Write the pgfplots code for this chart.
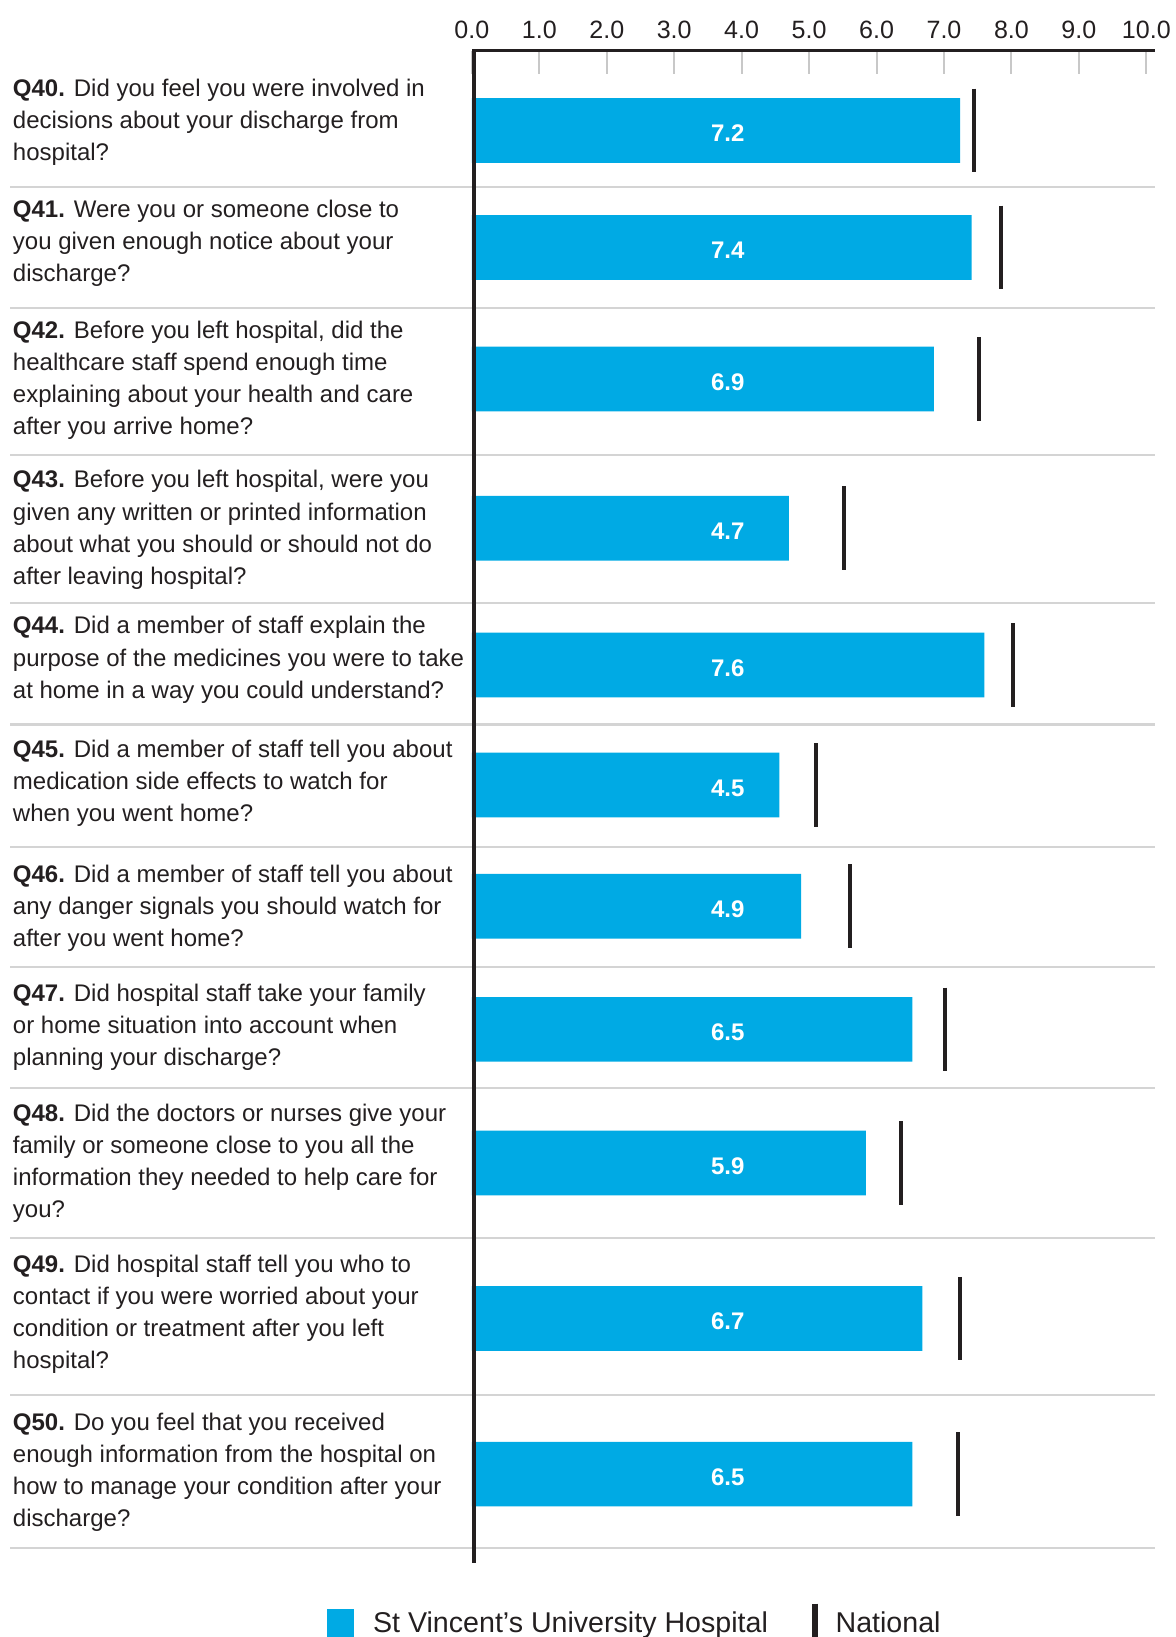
\documentclass[border=0pt]{standalone}
\usepackage{pgfplots}
\pgfplotsset{compat=1.18}
\usepackage{pgfplotstable}
\usepackage{fontspec}
\setmainfont{Liberation Sans}
\definecolor{barblue}{HTML}{00AAE4}
\definecolor{ink}{HTML}{231F20}
\definecolor{sepgray}{HTML}{D4D4D4}
\definecolor{tickgray}{HTML}{C8C8C8}
\newcommand{\labfont}{\fontsize{11.5}{15.35}\selectfont}

\pgfplotstableread{
y     val   nat   lx     lab
-125  7.24  7.45  3.793  7.2
-237  7.41  7.84  3.793  7.4
-363  6.85  7.52  3.793  6.9
-506  4.70  5.52  3.793  4.7
-637  7.60  8.02  3.793  7.6
-752  4.56  5.10  3.793  4.5
-868  4.88  5.61  3.793  4.9
-986  6.53  7.02  3.793  6.5
-1114 5.84  6.36  3.793  5.9
-1263 6.68  7.24  3.793  6.7
-1412 6.53  7.21  3.793  6.5
}\data

\begin{document}
\begin{tikzpicture}
\begin{axis}[
  scale only axis, width=323pt, height=724.25pt,
  xmin=0, xmax=10, ymin=-1497, ymax=-48.5,
  clip=false,
  axis x line=top, axis y line=left,
  axis line style={draw=none,-},
  xtick={0,1,2,3,4,5,6,7,8,9,10},
  xticklabels={0.0,1.0,2.0,3.0,4.0,5.0,6.0,7.0,8.0,9.0,10.0},
  ytick=\empty,
  tick align=inside,
  major tick length=11.2pt,
  major tick style={draw=tickgray, line width=1pt},
  xticklabel style={font=\fontsize{12}{15}\selectfont, text=ink, anchor=base, inner sep=0pt, yshift=5.9pt},
]
% row separators
\draw[sepgray, line width=1pt]
  (axis cs:-6.842,-179) -- (axis cs:10.124,-179)
  (axis cs:-6.842,-295) -- (axis cs:10.124,-295)
  (axis cs:-6.842,-436) -- (axis cs:10.124,-436)
  (axis cs:-6.842,-578) -- (axis cs:10.124,-578)
  (axis cs:-6.842,-694) -- (axis cs:10.124,-694)
  (axis cs:-6.842,-811) -- (axis cs:10.124,-811)
  (axis cs:-6.842,-926) -- (axis cs:10.124,-926)
  (axis cs:-6.842,-1042) -- (axis cs:10.124,-1042)
  (axis cs:-6.842,-1186) -- (axis cs:10.124,-1186)
  (axis cs:-6.842,-1336) -- (axis cs:10.124,-1336)
  (axis cs:-6.842,-1483) -- (axis cs:10.124,-1483);

\addplot[xbar, bar width=31pt, fill=barblue, draw=none] table[x=val, y=y] {\data};
\addplot[only marks, mark=|, mark size=20pt, mark options={line width=2pt, draw=ink}] table[x=nat, y=y] {\data};
\addplot[draw=none, mark=none, nodes near coords, point meta=explicit symbolic,
  every node near coord/.append style={anchor=center, yshift=-1.5pt, font=\bfseries\fontsize{11.5}{14}\selectfont, text=white, inner sep=0pt}]
  table[x=lx, y=y, meta=lab] {\data};

\draw[ink, line width=1.6pt] (axis cs:10.124,-48.5) -- (axis cs:0,-48.5);
\draw[ink, line width=2pt] (axis cs:0.03,-47.7) -- (axis cs:0.03,-1497);

% question labels
\tikzset{qlab/.style={anchor=west, align=left, inner sep=0pt, font=\labfont, text=ink}}
\node[qlab] at (axis cs:-6.811,-117) {\textbf{Q40.} Did you feel you were involved in\\decisions about your discharge from\\hospital?};
\node[qlab] at (axis cs:-6.811,-233) {\textbf{Q41.} Were you or someone close to\\you given enough notice about your\\discharge?};
\node[qlab] at (axis cs:-6.811,-364) {\textbf{Q42.} Before you left hospital, did the\\healthcare staff spend enough time\\explaining about your health and care\\after you arrive home?};
\node[qlab] at (axis cs:-6.811,-507.5) {\textbf{Q43.} Before you left hospital, were you\\given any written or printed information\\about what you should or should not do\\after leaving hospital?};
\node[qlab] at (axis cs:-6.811,-632) {\textbf{Q44.} Did a member of staff explain the\\purpose of the medicines you were to take\\at home in a way you could understand?};
\node[qlab] at (axis cs:-6.811,-750) {\textbf{Q45.} Did a member of staff tell you about\\medication side effects to watch for\\when you went home?};
\node[qlab] at (axis cs:-6.811,-870) {\textbf{Q46.} Did a member of staff tell you about\\any danger signals you should watch for\\after you went home?};
\node[qlab] at (axis cs:-6.811,-984) {\textbf{Q47.} Did hospital staff take your family\\or home situation into account when\\planning your discharge?};
\node[qlab] at (axis cs:-6.811,-1114) {\textbf{Q48.} Did the doctors or nurses give your\\family or someone close to you all the\\information they needed to help care for\\you?};
\node[qlab] at (axis cs:-6.811,-1258.5) {\textbf{Q49.} Did hospital staff tell you who to\\contact if you were worried about your\\condition or treatment after you left\\hospital?};
\node[qlab] at (axis cs:-6.811,-1410) {\textbf{Q50.} Do you feel that you received\\enough information from the hospital on\\how to manage your condition after your\\discharge?};

% legend
\fill[barblue] (axis cs:-2.152,-1541) rectangle (axis cs:-1.749,-1580);
\node[anchor=base west, inner sep=0pt, font=\fontsize{13.7}{16}\selectfont, text=ink] at (axis cs:-1.471,-1563.5) {St Vincent’s University Hospital};
\draw[ink, line width=2.8pt] (axis cs:5.093,-1536) -- (axis cs:5.093,-1580);
\node[anchor=base west, inner sep=0pt, font=\fontsize{13.7}{16}\selectfont, text=ink] at (axis cs:5.387,-1563.5) {National};

\coordinate (BL) at (axis cs:-6.997,-1568);
\coordinate (TR) at (axis cs:10.433,0);
\end{axis}
\pgfresetboundingbox
\path[use as bounding box] (BL) rectangle (TR);
\end{tikzpicture}
\end{document}
